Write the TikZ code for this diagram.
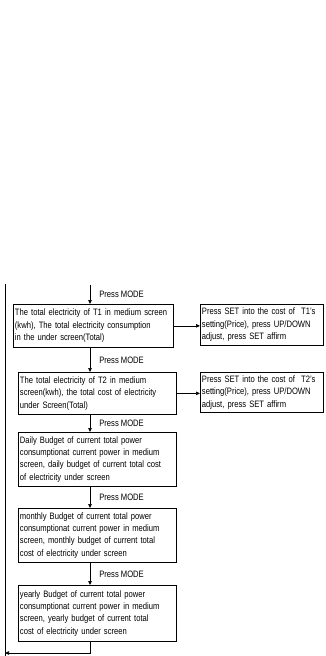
\documentclass[tikz,border=0pt]{standalone}
\usepackage{fontspec}
\setmainfont{Liberation Sans}[FakeStretch=0.82]
\usetikzlibrary{arrows.meta}
\begin{document}
\begin{tikzpicture}[x=1pt,y=-1pt,
  line width=0.7pt,
  arr/.style={-{Triangle[length=4pt,width=3.5pt]}},
  box/.style={draw,anchor=north west,align=left,inner sep=1.6pt,
    font=\fontsize{9.3}{12.3}\selectfont},
  lbl/.style={right,font=\fontsize{9.3}{10}\selectfont,inner sep=1pt,xshift=8pt}]
\useasboundingbox (0,0) rectangle (326,656);
\node[box,minimum width=160pt,minimum height=43pt,text width=157pt] (b1) at (13,304)
 {The total electricity of T1 in medium screen\\(kwh), The total electricity consumption\\in the under screen(Total)};
\node[box,minimum width=123pt,minimum height=41pt,text width=120pt] (r1) at (200,304)
 {Press SET into the cost of \ T1's\\setting(Price), press UP/DOWN\\adjust, press SET affirm};
\node[box,minimum width=158pt,minimum height=42pt,text width=155pt] (b2) at (18,372)
 {The total electricity of T2 in medium\\screen(kwh), the total cost of electricity\\under Screen(Total)};
\node[box,minimum width=123pt,minimum height=40pt,text width=120pt] (r2) at (200,372)
 {Press SET into the cost of \ T2's\\setting(Price), press UP/DOWN\\adjust, press SET affirm};
\node[box,minimum width=158pt,minimum height=54pt,text width=155pt] (b3) at (18,432)
 {Daily Budget of current total power\\consumptionat current power in medium\\screen, daily budget of current total cost\\of electricity under screen};
\node[box,minimum width=158pt,minimum height=54pt,text width=155pt] (b4) at (18,508)
 {monthly Budget of current total power\\consumptionat current power in medium\\screen, monthly budget of current total\\cost of electricity under screen};
\node[box,minimum width=158pt,minimum height=56pt,text width=155pt] (b5) at (18,585)
 {yearly Budget of current total power\\consumptionat current power in medium\\screen, yearly budget of current total\\cost of electricity under screen};
\coordinate (start) at (90,285);
\coordinate (ltop) at (5,284);
\coordinate (lbot) at (5,656);
\coordinate (lcorner) at (5,653);
\draw[arr] (start) -- node[lbl]{Press MODE} (b1.north -| start);
\draw[arr] (b1.south -| start) -- node[lbl]{Press MODE} (b2.north -| start);
\draw[arr] (b2.south -| start) -- node[lbl]{Press MODE} (b3.north -| start);
\draw[arr] (b3.south -| start) -- node[lbl]{Press MODE} (b4.north -| start);
\draw[arr] (b4.south -| start) -- node[lbl]{Press MODE} (b5.north -| start);
\draw[arr] (b1.east) -- (r1.west |- b1.east);
\draw[arr] (b2.east) -- (r2.west |- b2.east);
\draw (ltop) -- (lbot);
\draw[arr] (b5.south -| start) |- (lcorner);
\end{tikzpicture}
\end{document}
